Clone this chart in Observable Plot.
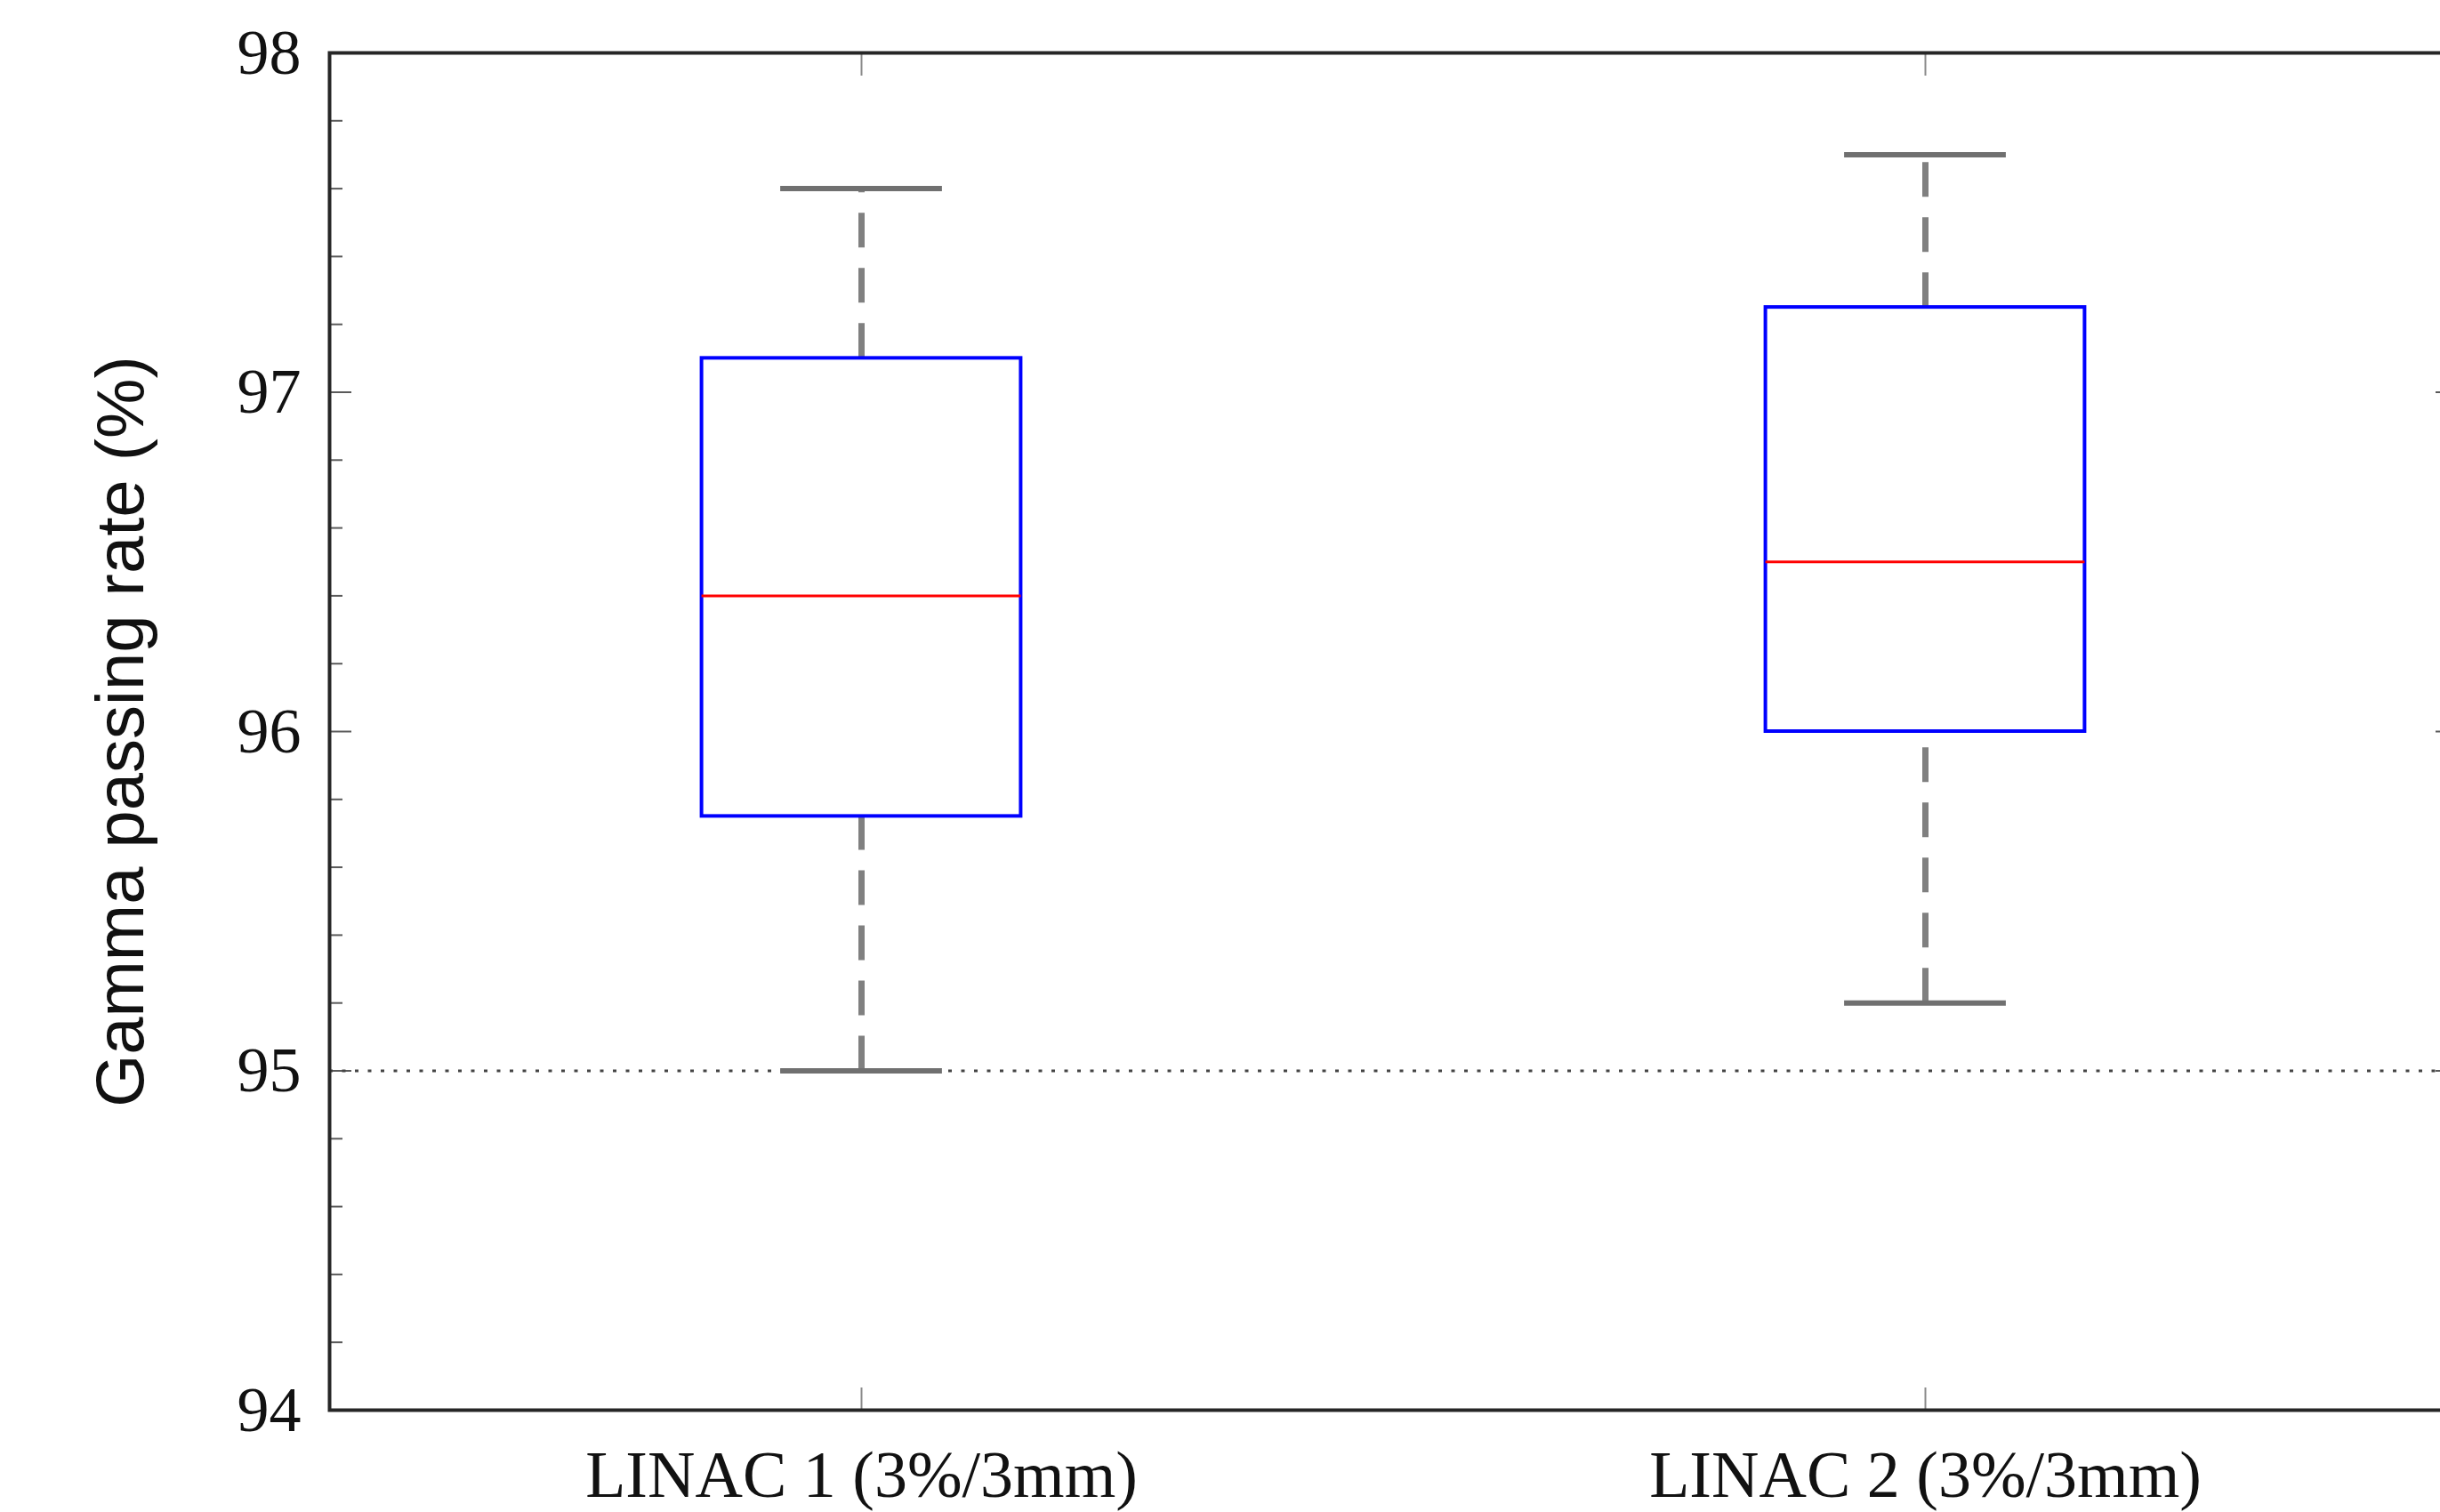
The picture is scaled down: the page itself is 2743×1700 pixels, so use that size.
<!DOCTYPE html>
<html><head><meta charset="utf-8">
<script src="https://cdn.jsdelivr.net/npm/d3@7"></script>
<script src="https://cdn.jsdelivr.net/npm/@observablehq/plot@0.6"></script>
<style>html,body{margin:0;padding:0;background:#fff;overflow:hidden}</style>
</head><body><div id="chart"></div>
<script>
const categories = ["LINAC 1 (3%/3mm)", "LINAC 2 (3%/3mm)"];
const positions = [1, 2];
const lowerWhisker = [95.0, 95.2];
const q1 = [95.75, 96.0];
const median = [96.4, 96.5];
const q3 = [97.1, 97.25];
const upperWhisker = [97.6, 97.7];
const yMajorTicks = [94, 95, 96, 97, 98];
const yMinorStep = 0.2;
const referenceLine = [95];
const yTitle = "Gamma passing rate (%)";

const rows = categories.map((c, i) => ({
  category: c, pos: positions[i], lo: lowerWhisker[i], q1: q1[i],
  med: median[i], q3: q3[i], hi: upperWhisker[i]
}));
const boxHalf = 0.15, capHalf = 0.076;
const yMinorTicks = d3.range(94, 98 + 1e-9, yMinorStep)
  .map(v => +v.toFixed(1)).filter(v => !yMajorTicks.includes(v));

const serif = "'Liberation Serif', 'Times New Roman', serif";
const tickColor = "#5a5a5a";

const chart = Plot.plot({
  width: 2743,
  height: 1700,
  marginLeft: 370,
  marginTop: 59,
  marginBottom: 115,
  marginRight: -19,
  style: {background: "white", overflow: "hidden"},
  x: {type: "linear", domain: [0.5, 2.5], axis: null, label: null},
  y: {domain: [94, 98], axis: null, label: null},
  marks: [
    // inward ticks
    Plot.axisY({ticks: yMinorTicks, anchor: "left", tickSize: -15, tickFormat: () => "", color: tickColor, strokeWidth: 2, label: null}),
    Plot.axisY({ticks: yMinorTicks, anchor: "right", tickSize: -15, tickFormat: () => "", color: tickColor, strokeWidth: 2, label: null}),
    Plot.axisY({ticks: yMajorTicks, anchor: "left", tickSize: -25, tickFormat: () => "", color: tickColor, strokeWidth: 2, label: null}),
    Plot.axisY({ticks: yMajorTicks, anchor: "right", tickSize: -25, tickFormat: () => "", color: tickColor, strokeWidth: 2, label: null}),
    Plot.axisX({ticks: positions, anchor: "bottom", tickSize: -25, tickFormat: () => "", color: "#8a8a8a", strokeWidth: 2, label: null}),
    Plot.axisX({ticks: positions, anchor: "top", tickSize: -25, tickFormat: () => "", color: "#8a8a8a", strokeWidth: 2, label: null}),
    // labels
    Plot.axisY({ticks: yMajorTicks, anchor: "left", tickSize: 0, tickPadding: 32, tickFormat: d => String(d), fontSize: 72, fontFamily: serif, color: "#111", label: null}),
    Plot.axisX({ticks: positions, anchor: "bottom", tickSize: 0, tickPadding: 45, tickFormat: i => categories[i - 1], fontSize: 74, fontFamily: serif, color: "#111", label: null}),
    Plot.text([yTitle], {text: d => d, frameAnchor: "left", textAnchor: "middle", dx: -234, rotate: -90, fontSize: 76, fontFamily: "'Liberation Sans', Arial, sans-serif", fill: "#111"}),
    // reference line
    Plot.ruleY(referenceLine, {stroke: "#444", strokeWidth: 3, strokeDasharray: "4,10.5"}),
    // whiskers
    Plot.ruleX(rows, {x: "pos", y1: "q3", y2: "hi", stroke: "#808080", strokeWidth: 7, strokeDasharray: "39,23"}),
    Plot.ruleX(rows, {x: "pos", y1: "lo", y2: "q1", stroke: "#808080", strokeWidth: 7, strokeDasharray: "39,23"}),
    // caps
    Plot.ruleY(rows, {y: "hi", x1: d => d.pos - capHalf, x2: d => d.pos + capHalf, stroke: "#707070", strokeWidth: 6}),
    Plot.ruleY(rows, {y: "lo", x1: d => d.pos - capHalf, x2: d => d.pos + capHalf, stroke: "#707070", strokeWidth: 6}),
    // boxes
    Plot.rect(rows, {x1: d => d.pos - boxHalf, x2: d => d.pos + boxHalf, y1: "q1", y2: "q3", fill: "none", stroke: "#0000ff", strokeWidth: 4}),
    // medians
    Plot.ruleY(rows, {y: "med", x1: d => d.pos - boxHalf, x2: d => d.pos + boxHalf, stroke: "#ff0000", strokeWidth: 3}),
    // frame
    Plot.frame({stroke: "#262626", strokeWidth: 4})
  ]
});
document.getElementById("chart").appendChild(chart);
</script>
</body></html>
